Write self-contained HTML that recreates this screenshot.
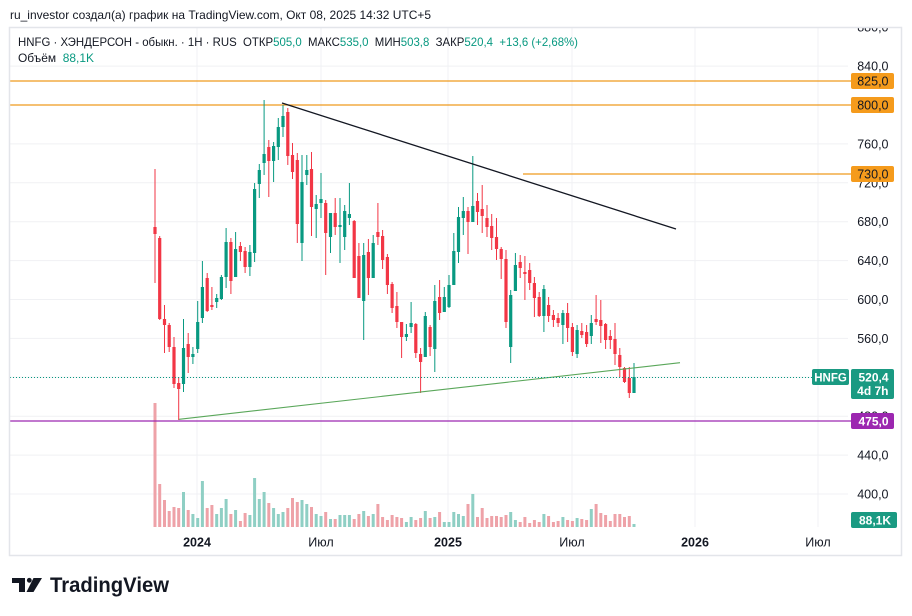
<!DOCTYPE html>
<html><head><meta charset="utf-8">
<style>
html,body{margin:0;padding:0;background:#fff;}
svg{display:block;}
text{font-family:"Liberation Sans","DejaVu Sans",sans-serif;}
</style></head><body>
<svg width="912" height="616" viewBox="0 0 912 616" xmlns="http://www.w3.org/2000/svg">
<rect width="912" height="616" fill="#fff"/>
<text x="10" y="19" font-size="12" fill="#131722" textLength="421" lengthAdjust="spacingAndGlyphs">ru_investor создал(а) график на TradingView.com, Окт 08, 2025 14:32 UTC+5</text>

<clipPath id="c"><rect x="10" y="28" width="891" height="527"/></clipPath>
<g clip-path="url(#c)">
  <!-- horizontal grid -->
  <g stroke="#f0f1f4" stroke-width="1">
    <path d="M10 27.2H848M10 66.1H848M10 105H848M10 143.9H848M10 182.8H848M10 221.7H848M10 260.6H848M10 299.5H848M10 338.4H848M10 377.3H848M10 416.2H848M10 455.1H848M10 494H848"/>
    <path d="M197 28V527M321 28V527M448 28V527M572 28V527M695 28V527M818 28V527"/>
  </g>

  <!-- volumes -->
  <path fill="none" stroke="#8fcfc4" stroke-width="3" d="M183.5 527V492M192.9 527V514M197.7 527V518M202.4 527V481M216.7 527V514M221.4 527V508M226.1 527V499M235.6 527V510M249.9 527V515M254.6 527V478M259.3 527V499M264.1 527V492M273.6 527V508M278.3 527V514M283 527V512M302 527V500M306.8 527V504M316.2 527V514M321 527V516M330.5 527V519M340 527V515M344.7 527V515M349.4 527V515M363.7 527V511M373.2 527V514M406.4 527V522M411.1 527V517M425.3 527V511M434.8 527V517M444.3 527V522M449 527V522M453.8 527V512M458.5 527V514M463.3 527V516M472.8 527V494M510.7 527V512M515.4 527V520M543.9 527V514M562.9 527V517M577.1 527V518M591.3 527V509M634 527V524"/>
  <path fill="none" stroke="#eea2a8" stroke-width="3" d="M155 527V403M159.7 527V484M164.5 527V500M169.2 527V511M174 527V507M178.7 527V508M188.2 527V510M207.2 527V508M211.9 527V505M230.9 527V514M240.4 527V521M245.1 527V513M268.8 527V503M287.8 527V508M292.5 527V498M297.3 527V502M311.5 527V507M325.7 527V512M335.2 527V519M354.2 527V519M358.9 527V514M368.4 527V516M377.9 527V504M382.6 527V517M387.4 527V520M392.1 527V515M396.9 527V517M401.6 527V518M415.8 527V520M420.6 527V518M430.1 527V518M439.6 527V512M468 527V504M477.5 527V517M482.2 527V508M487 527V518M491.7 527V516M496.5 527V516M501.2 527V517M506 527V515M520.2 527V522M524.9 527V517M529.7 527V523M534.4 527V520M539.2 527V522M548.6 527V516M553.4 527V522M558.1 527V521M567.6 527V520M572.4 527V521M581.8 527V519M586.6 527V520M596.1 527V504M600.8 527V513M605.6 527V515M610.3 527V521M615 527V514M619.8 527V514M624.5 527V517M629.3 527V516"/>

  <!-- level lines -->
  <path d="M10 81H851M10 105H851M523 174H851" stroke="#ef9a1e" stroke-width="1.2" fill="none"/>
  <path d="M10 421H851" stroke="#9c27b0" stroke-width="1.2" fill="none"/>

  <!-- candles -->
  <path fill="none" stroke="#089981" stroke-width="1" d="M183.5 319V392M192.9 347V364M197.7 301V353M202.4 261V323M216.7 294V308M221.4 275V300M226.1 228V288M235.6 232V277M249.9 245V276M254.6 183V262M259.3 164V198M264.1 100V175M273.6 142V182M278.3 118V160M283 105V137M302 155V261M306.8 155V185M316.2 195V238M321 173V218M330.5 213V253M340 198V263M344.7 205V250M349.4 183V225M363.7 243V340M373.2 235V278M406.4 324V341M411.1 302V333M425.3 312V357M434.8 285V372M444.3 287V312M449 275V308M453.8 233V285M458.5 207V263M463.3 197V235M472.8 156V222M510.7 290V363M515.4 253V291M543.9 285V332M562.9 310V344M577.1 325V358M591.3 315V344M634 363V393"/>
  <path fill="none" stroke="#089981" stroke-width="3.2" d="M183.5 348V384M192.9 354V357M197.7 322V349M202.4 287V318M216.7 298V302M221.4 277V299M226.1 242V277M235.6 249V277M249.9 252V267M254.6 189V253M259.3 170V184M264.1 154V163M273.6 146V161M278.3 127V147M283 116V127M302 182V243M306.8 170V175M316.2 204V209M321 199V203M330.5 213V237M340 225V227M344.7 211V237M349.4 214V218M363.7 255V301M373.2 243V278M406.4 334V337M411.1 323V327M425.3 316V357M434.8 301V349M444.3 297V312M449 285V307M453.8 251V285M458.5 217V252M463.3 211V218M472.8 206V222M510.7 295V347M515.4 265V291M543.9 289V316M562.9 313V325M577.1 330V354M591.3 323V336M634 377V393"/>
  <path fill="none" stroke="#f23645" stroke-width="1" d="M155 169V283M159.7 236V320M164.5 305V353M169.2 323V352M174 337V388M178.7 377V420M188.2 333V373M207.2 273V312M211.9 287V310M230.9 238V294M240.4 242V261M245.1 247V273M268.8 140V197M287.8 108V165M292.5 143V179M297.3 153V243M311.5 152V236M325.7 200V275M335.2 198V235M354.2 220V278M358.9 243V298M368.4 239V295M377.9 203V245M382.6 230V269M387.4 254V294M392.1 282V313M396.9 292V328M401.6 322V358M415.8 323V358M420.6 348V393M430.1 325V356M439.6 280V320M468 207V254M477.5 193V225M482.2 185V233M487 205V237M491.7 214V250M496.5 218V260M501.2 247V279M506 250V328M520.2 255V278M524.9 256V300M529.7 263V290M534.4 277V317M539.2 292V317M548.6 297V322M553.4 310V327M558.1 313V327M567.6 303V342M572.4 323V356M581.8 323V338M586.6 325V347M596.1 295V325M600.8 300V343M605.6 323V349M610.3 330V349M615 323V365M619.8 348V377M624.5 367V383M629.3 367V398"/>
  <path fill="none" stroke="#f23645" stroke-width="3.2" d="M155 227V234M159.7 238V319M164.5 319V325M169.2 325V347M174 347V384M178.7 383V389M188.2 344V357M207.2 278V311M211.9 305V307M230.9 242V281M240.4 246V252M245.1 251V267M268.8 147V161M287.8 112V156M292.5 155V172M297.3 160V224M311.5 169V207M325.7 203V233M335.2 213V227M354.2 221V278M358.9 256V298M368.4 252V278M377.9 232V237M382.6 236V260M387.4 257V285M392.1 284V308M396.9 306V322M401.6 322V337M415.8 324V353M420.6 354V362M430.1 327V347M439.6 297V313M468 211V222M477.5 201V212M482.2 209V216M487 218V227M491.7 226V238M496.5 237V249M501.2 249V259M506 259V322M520.2 262V268M524.9 272V274M529.7 270V283M534.4 283V298M539.2 297V316M548.6 305V316M553.4 315V320M558.1 318V323M567.6 313V328M572.4 327V352M581.8 331V335M586.6 332V344M596.1 319V322M600.8 320V326M605.6 324V340M610.3 336V340M615 339V354M619.8 355V367M624.5 368V382M629.3 378V393"/>

  <!-- trend lines -->
  <path d="M282 103L676 229" stroke="#131722" stroke-width="1.3" fill="none"/>
  <path d="M179 419.3L680 362.7" stroke="#5aa75a" stroke-width="1.1" fill="none"/>
  <!-- last price dotted -->
  <path d="M10 377.5H812" stroke="#089981" stroke-width="1" stroke-dasharray="1 2" fill="none"/>

  <!-- right axis labels -->
  <g font-size="12.5" fill="#131722" text-anchor="end">
    <text x="888.5" y="31.5">880,0</text>
    <text x="888.5" y="70.6">840,0</text>
    <text x="888.5" y="148.4">760,0</text>
    <text x="888.5" y="187.3">720,0</text>
    <text x="888.5" y="226.2">680,0</text>
    <text x="888.5" y="265.1">640,0</text>
    <text x="888.5" y="304">600,0</text>
    <text x="888.5" y="342.9">560,0</text>
    <text x="888.5" y="420.7">480,0</text>
    <text x="888.5" y="459.6">440,0</text>
    <text x="888.5" y="498.5">400,0</text>
  </g>

  <!-- price boxes -->
  <rect x="851" y="73" width="43" height="16" rx="2" fill="#f59b1c"/>
  <rect x="851" y="97" width="43" height="16" rx="2" fill="#f59b1c"/>
  <rect x="851" y="166" width="43" height="16" rx="2" fill="#f59b1c"/>
  <g font-size="12.5" fill="#131722" text-anchor="end">
    <text x="888.5" y="85.5">825,0</text>
    <text x="888.5" y="109.5">800,0</text>
    <text x="888.5" y="178.5">730,0</text>
  </g>
  <rect x="812" y="369" width="37" height="16" rx="2" fill="#1a9a82"/>
  <text x="830.5" y="381.5" font-size="11.5" font-weight="bold" fill="#fff" text-anchor="middle">HNFG</text>
  <rect x="851" y="369" width="43" height="30" rx="2" fill="#1a9a82"/>
  <text x="888.5" y="381.5" font-size="12" font-weight="bold" fill="#fff" text-anchor="end">520,4</text>
  <text x="888.5" y="395" font-size="12" font-weight="bold" fill="#fff" text-anchor="end">4d 7h</text>
  <rect x="851" y="413" width="43" height="16" rx="2" fill="#9c27b0"/>
  <text x="888.5" y="425.5" font-size="12" font-weight="bold" fill="#fff" text-anchor="end">475,0</text>
  <rect x="851" y="512" width="46" height="16" rx="2" fill="#1a9a82"/>
  <text x="891" y="524.5" font-size="12" font-weight="bold" fill="#fff" text-anchor="end">88,1K</text>

  <!-- time axis -->
  <g font-size="12.5" fill="#131722" text-anchor="middle">
    <text x="197" y="546.5" font-weight="bold">2024</text>
    <text x="321" y="546.5">Июл</text>
    <text x="448" y="546.5" font-weight="bold">2025</text>
    <text x="572" y="546.5">Июл</text>
    <text x="695" y="546.5" font-weight="bold">2026</text>
    <text x="818" y="546.5">Июл</text>
  </g>

  <!-- legend -->
  <text x="18" y="46" font-size="12" fill="#131722" xml:space="preserve" textLength="560" lengthAdjust="spacingAndGlyphs">HNFG · ХЭНДЕРСОН - обыкн. · 1H · RUS  ОТКР<tspan fill="#089981">505,0</tspan>  МАКС<tspan fill="#089981">535,0</tspan>  МИН<tspan fill="#089981">503,8</tspan>  ЗАКР<tspan fill="#089981">520,4</tspan>  <tspan fill="#089981">+13,6 (+2,68%)</tspan></text>
  <text x="18" y="62" font-size="12" fill="#131722" xml:space="preserve" textLength="76" lengthAdjust="spacingAndGlyphs">Объём  <tspan fill="#089981">88,1K</tspan></text>
</g>

<!-- frame -->
<rect x="9.5" y="27.5" width="892" height="528" fill="none" stroke="#e3e5ea" stroke-width="1.5"/>

<!-- logo -->
<g fill="#131722">
  <path d="M12 578H25V592H19V583H12Z"/>
  <circle cx="29.3" cy="580.3" r="2.4"/>
  <path d="M33.5 578H42L33.5 592H26.5Z"/>
</g>
<text x="50" y="592" font-size="21" font-weight="bold" fill="#131722" textLength="119" lengthAdjust="spacingAndGlyphs">TradingView</text>
</svg>
</body></html>
